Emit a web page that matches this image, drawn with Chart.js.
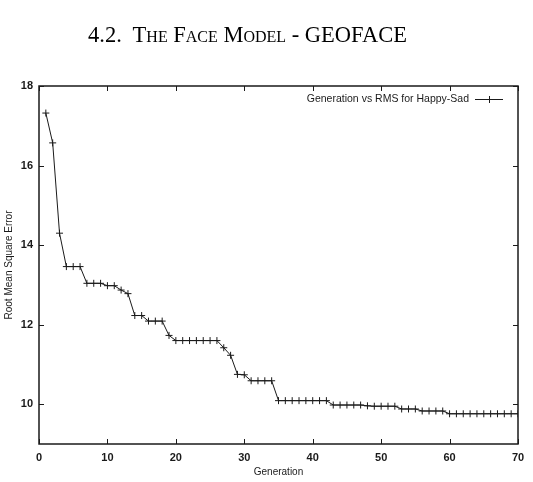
<!DOCTYPE html>
<html>
<head>
<meta charset="utf-8">
<script src="https://cdn.jsdelivr.net/npm/chart.js@4.4.1/dist/chart.umd.min.js"></script>
<style>
  html, body { margin: 0; padding: 0; background: #fff; }
  #wrap { position: relative; width: 533px; height: 482px; }
  #heading {
    position: absolute; left: 88px; top: 24px;
    font-family: "Liberation Serif", "DejaVu Serif", serif;
    font-size: 22.5px; line-height: 22.5px; color: #000;
    font-variant: small-caps; white-space: pre;
  }
  canvas { position: absolute; left: 0; top: 0; }
</style>
</head>
<body>
<div id="wrap">
  <canvas id="rmsChart" width="533" height="482"></canvas>
  <div id="heading">4.2.  The Face Model - GEOFACE</div>
</div>
<script>
// generations and RMS error
const generations = [
  1, 2, 3, 4, 5, 6, 7, 8, 9, 10,
  11, 12, 13, 14, 15, 16, 17, 18, 19, 20,
  21, 22, 23, 24, 25, 26, 27, 28, 29, 30,
  31, 32, 33, 34, 35, 36, 37, 38, 39, 40,
  41, 42, 43, 44, 45, 46, 47, 48, 49, 50,
  51, 52, 53, 54, 55, 56, 57, 58, 59, 60,
  61, 62, 63, 64, 65, 66, 67, 68, 69, 70
];
const rmsValues = [
  17.32, 16.57, 14.30, 13.46, 13.46, 13.46, 13.04, 13.04, 13.04, 12.98,
  12.98, 12.87, 12.78, 12.23, 12.23, 12.09, 12.09, 12.09, 11.73, 11.60,
  11.60, 11.60, 11.60, 11.60, 11.60, 11.60, 11.42, 11.23, 10.75, 10.74,
  10.59, 10.59, 10.59, 10.59, 10.09, 10.09, 10.09, 10.09, 10.09, 10.09,
  10.09, 10.09, 9.98, 9.98, 9.98, 9.98, 9.98, 9.96, 9.95, 9.95,
  9.95, 9.95, 9.88, 9.88, 9.88, 9.83, 9.83, 9.83, 9.83, 9.76,
  9.76, 9.76, 9.76, 9.76, 9.76, 9.76, 9.76, 9.76, 9.76, 9.76
];
const xTicks = [0, 10, 20, 30, 40, 50, 60, 70];
const yTicks = [10, 12, 14, 16, 18];
const seriesLabel = 'Generation vs RMS for Happy-Sad';

const ink = '#1a1a1a';
const tickFont = { family: '"Liberation Sans", Arial, sans-serif', size: 11, weight: 'bold' };

// gnuplot style frame with ticks pointing inward on all four sides
const framePlugin = {
  id: 'frame',
  afterDraw(chart) {
    const { ctx, chartArea: a, scales: { x, y } } = chart;
    ctx.save();
    ctx.strokeStyle = ink;
    ctx.lineWidth = 1.5;
    ctx.strokeRect(a.left, a.top, a.width, a.height);
    ctx.lineWidth = 1;
    ctx.beginPath();
    xTicks.forEach(v => {
      const px = Math.round(x.getPixelForValue(v)) + 0.5;
      ctx.moveTo(px, a.bottom); ctx.lineTo(px, a.bottom - 5);
      ctx.moveTo(px, a.top); ctx.lineTo(px, a.top + 5);
    });
    yTicks.forEach(v => {
      const py = Math.round(y.getPixelForValue(v)) + 0.5;
      ctx.moveTo(a.left, py); ctx.lineTo(a.left + 5, py);
      ctx.moveTo(a.right, py); ctx.lineTo(a.right - 5, py);
    });
    ctx.stroke();
    ctx.restore();
  }
};

// key in the top right corner: text then a line sample with a cross
const keyPlugin = {
  id: 'key',
  afterDraw(chart) {
    const { ctx, chartArea: a } = chart;
    const yy = a.top + 13;
    const x1 = a.right - 43, x2 = a.right - 15;
    ctx.save();
    ctx.fillStyle = ink;
    ctx.font = '10.5px "Liberation Sans", Arial, sans-serif';
    ctx.textAlign = 'right';
    ctx.textBaseline = 'middle';
    ctx.fillText(seriesLabel, x1 - 6, yy);
    ctx.strokeStyle = ink;
    ctx.lineWidth = 1;
    ctx.beginPath();
    ctx.moveTo(x1, yy + 0.5); ctx.lineTo(x2, yy + 0.5);
    const mid = Math.round((x1 + x2) / 2) + 0.5;
    ctx.moveTo(mid, yy - 3); ctx.lineTo(mid, yy + 4);
    ctx.stroke();
    ctx.restore();
  }
};

const ctx = document.getElementById('rmsChart').getContext('2d');
new Chart(ctx, {
  type: 'line',
  data: {
    datasets: [{
      label: seriesLabel,
      data: generations.map((g, i) => ({ x: g, y: rmsValues[i] })),
      borderColor: ink,
      borderWidth: 1,
      pointStyle: 'cross',
      pointRadius: 3.5,
      pointBorderColor: ink,
      pointBorderWidth: 1,
      fill: false,
      tension: 0
    }]
  },
  options: {
    responsive: false,
    animation: false,
    layout: { padding: { top: 86, right: 15, left: 0, bottom: 0 } },
    plugins: {
      legend: { display: false },
      tooltip: { enabled: false }
    },
    scales: {
      x: {
        type: 'linear',
        min: 0,
        max: 70,
        afterBuildTicks: s => { s.ticks = xTicks.map(v => ({ value: v })); },
        afterFit: s => { s.height = 38; },
        grid: { display: false, drawTicks: false, tickLength: 0 },
        border: { display: false },
        ticks: { color: ink, font: tickFont, padding: 7, maxRotation: 0 },
        title: {
          display: true,
          text: 'Generation',
          color: ink,
          font: { family: '"Liberation Sans", Arial, sans-serif', size: 10 },
          padding: { top: 0, bottom: 4 }
        }
      },
      y: {
        type: 'linear',
        min: 9,
        max: 18,
        afterBuildTicks: s => { s.ticks = yTicks.map(v => ({ value: v })); },
        afterFit: s => { s.width = 39; },
        grid: { display: false, drawTicks: false, tickLength: 0 },
        border: { display: false },
        ticks: { color: ink, font: tickFont, padding: 6 },
        title: {
          display: true,
          text: 'Root Mean Square Error',
          color: ink,
          font: { family: '"Liberation Sans", Arial, sans-serif', size: 10 },
          padding: { top: 3, bottom: 0 }
        }
      }
    }
  },
  plugins: [framePlugin, keyPlugin]
});
</script>
</body>
</html>
